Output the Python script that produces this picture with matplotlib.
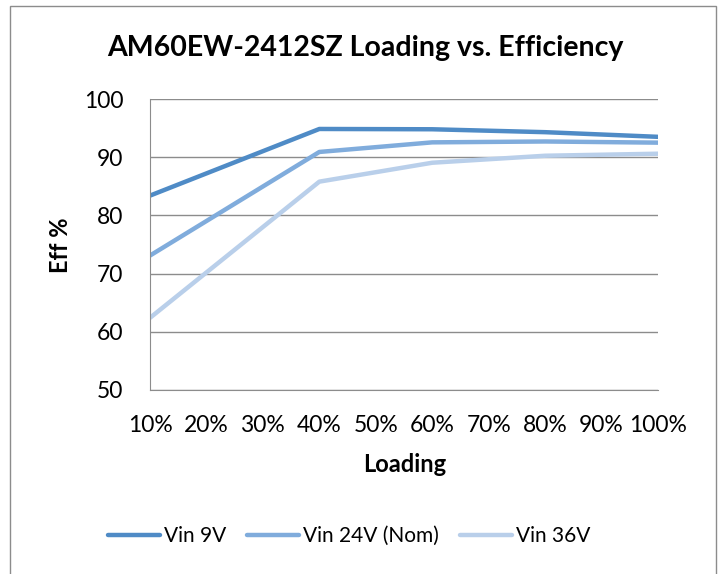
import matplotlib.pyplot as plt
from matplotlib.patches import Rectangle
from matplotlib.ticker import FuncFormatter

loading = [10, 40, 60, 80, 100]
vin_9v = [83.4, 94.85, 94.8, 94.3, 93.5]
vin_24v = [73.1, 90.9, 92.55, 92.7, 92.5]
vin_36v = [62.4, 85.8, 89.05, 90.25, 90.6]
series_names = ['Vin 9V', 'Vin 24V (Nom)', 'Vin 36V']
colors = ['#4f8bc6', '#80acdc', '#b9cfea']
x_ticks = [10, 20, 30, 40, 50, 60, 70, 80, 90, 100]

plt.rcParams['font.family'] = ['Lato', 'DejaVu Sans']

W, H = 722, 574
fig = plt.figure(figsize=(W / 100, H / 100), dpi=100)
ax = fig.add_axes([150 / W, 1 - 390 / H, 508 / W, 291 / H])

for vals, name, c in zip([vin_9v, vin_24v, vin_36v], series_names, colors):
    ax.plot(loading, vals, color=c, lw=3.2, label=name, solid_capstyle='round')

ax.set_xlim(10, 100)
ax.set_ylim(50, 100)
ax.set_xticks(x_ticks)
ax.xaxis.set_major_formatter(FuncFormatter(lambda v, p: '%d%%' % v))
ax.set_yticks(range(50, 101, 10))
ax.grid(axis='y', color='#8c8c8c', lw=1)
ax.set_axisbelow(True)
for s in ['top', 'right']:
    ax.spines[s].set_visible(False)
for s in ['left', 'bottom']:
    ax.spines[s].set_color('#8c8c8c')
ax.tick_params(length=0, labelsize=16.5, colors='black')
ax.tick_params(axis='y', pad=19)
ax.tick_params(axis='x', pad=18)

fig.text(365 / W, 1 - 48 / H, 'AM60EW-2412SZ Loading vs. Efficiency', ha='center', va='center',
         fontsize=20.5, fontweight='bold')
fig.text(61 / W, 1 - 245 / H, 'Eff %', ha='center', va='center', rotation=90,
         fontsize=17, fontweight='bold')
fig.text(405 / W, 1 - 465 / H, 'Loading', ha='center', va='center',
         fontsize=17, fontweight='bold')

fig.legend(loc='center', bbox_to_anchor=(349 / W, 1 - 536 / H), ncol=3, frameon=False,
           fontsize=15, handlelength=2.5, handletextpad=0.2, columnspacing=1.0)

fig.patches.append(Rectangle((10 / W, -0.02), 706 / W, 1.02 - 6 / H, transform=fig.transFigure,
                             fill=False, edgecolor='#8c8c8c', lw=1))

fig.savefig('out.png', dpi=100)
